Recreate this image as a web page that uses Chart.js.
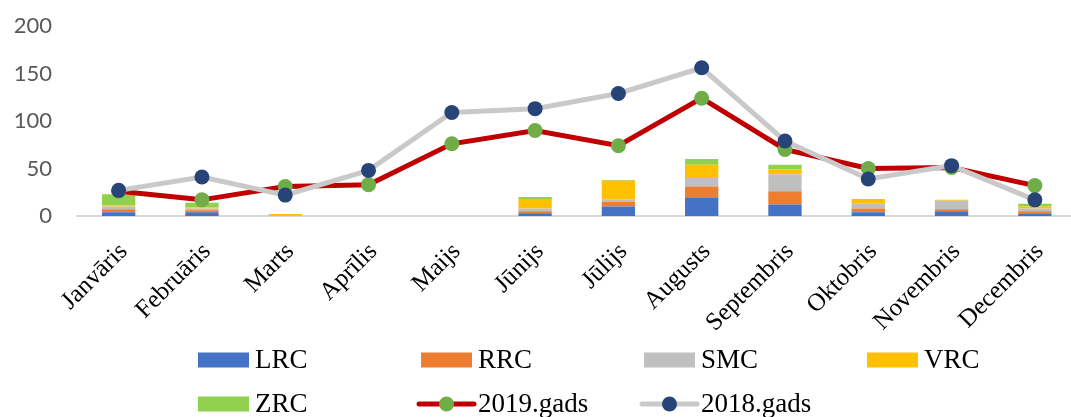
<!DOCTYPE html>
<html>
<head>
<meta charset="utf-8">
<script src="https://cdn.jsdelivr.net/npm/chart.js@4.4.0/dist/chart.umd.min.js"></script>
<style>
  html, body { margin:0; padding:0; background:#fff; overflow:hidden; }
  #wrap { width:1071px; height:417px; overflow:hidden; position:relative; }
  canvas { display:block; }
</style>
</head>
<body>
<div id="wrap"><canvas id="c" width="1084" height="417"></canvas></div>
<script>
// ==== DATA ====
const months = ["Janvāris","Februāris","Marts","Aprīlis","Maijs","Jūnijs","Jūlijs","Augusts","Septembris","Oktobris","Novembris","Decembris"];
const lrc = [4, 4, 0, 0, 0, 3, 10, 19, 12, 4, 5, 2];
const rrc = [3, 2, 0, 0, 0, 2, 5, 12, 14, 4, 2, 3];
const smc = [3, 2, 1, 0, 0, 3, 2, 9, 18, 5, 9, 3];
const vrc = [1, 1, 1, 0, 0, 10, 20, 14, 5, 5, 1, 2];
const zrc = [12, 5, 0, 0, 0, 2, 1, 6, 5, 0, 0, 3];
const y2019 = [26, 17, 31, 33, 76, 90, 74, 124, 70, 50, 51, 32];
const y2018 = [27, 41, 22, 48, 109, 113, 129, 156, 79, 39, 53, 17];
const yTicks = [0, 50, 100, 150, 200];

// ==== helpers ====
const bar = (label, data, color) => ({
  type:"bar", label, data, backgroundColor:color, stack:"bars", order:2,
  barPercentage:0.4, categoryPercentage:1
});
// each line gets its own stack so it is not piled on the bars
const line = (label, data, color, dot, order) => ({
  type:"line", label, data, stack:label, order,
  borderColor:color, borderWidth:5,
  pointRadius:7.5, pointBackgroundColor:dot, pointBorderColor:dot, pointBorderWidth:0,
  pointStyle:"circle", tension:0, fill:false
});

// legend drawn in fixed columns like the original
const gridLegend = {
  id:"gridLegend",
  afterDraw(chart){
    const ctx = chart.ctx;
    ctx.save();
    ctx.font = "27px 'Liberation Serif'";
    ctx.textBaseline = "middle";
    chart.data.datasets.forEach((ds, i) => {
      const x = 198 + (i % 4) * 223;
      const y = 360 + Math.floor(i / 4) * 44;
      if(ds.type === "bar"){
        ctx.fillStyle = ds.backgroundColor;
        ctx.fillRect(x, y - 7.5, 51, 15);
      } else {
        ctx.strokeStyle = ds.borderColor;
        ctx.lineWidth = 5;
        ctx.lineCap = "round";
        ctx.beginPath(); ctx.moveTo(x - 2, y); ctx.lineTo(x + 53, y); ctx.stroke();
        ctx.fillStyle = ds.pointBackgroundColor;
        ctx.beginPath(); ctx.arc(x + 25.5, y, 7.5, 0, Math.PI * 2); ctx.fill();
      }
      ctx.fillStyle = "#000";
      ctx.fillText(ds.label, x + 57, y + 1);
    });
    ctx.restore();
  }
};

new Chart(document.getElementById("c"), {
  data:{
    labels: months,
    datasets:[
      bar("LRC", lrc, "#4472C4"),
      bar("RRC", rrc, "#ED7D31"),
      bar("SMC", smc, "#BFBFBF"),
      bar("VRC", vrc, "#FFC000"),
      bar("ZRC", zrc, "#92D050"),
      line("2019.gads", y2019, "#C00000", "#70AD47", 1),
      line("2018.gads", y2018, "#C9C9C9", "#264478", 0)
    ]
  },
  options:{
    responsive:false,
    animation:false,
    layout:{ padding:{ top:26, right:0, bottom:0, left:0 } },
    plugins:{ legend:{ display:false }, tooltip:{ enabled:false } },
    scales:{
      x:{
        stacked:true,
        grid:{ display:false, drawTicks:false },
        border:{ display:true, color:"#D9D9D9", width:2 },
        ticks:{ minRotation:45, maxRotation:45, padding:21, labelOffset:5, color:"#000",
                font:{ family:"'Liberation Serif'", size:25 } },
        // fixed box: plot spans 77..1084 (canvas is cropped at 1071 like the original)
        afterFit(s){ s.height = 201; s.paddingLeft = 0; s.paddingRight = 0; }
      },
      y:{
        stacked:true,
        min:0, max:200,
        afterBuildTicks(s){ s.ticks = yTicks.map(v => ({ value:v })); },
        grid:{ display:false, drawTicks:false },
        border:{ display:false },
        ticks:{ padding:25, color:"#595959", font:{ family:"Lato", size:22 } },
        afterFit(s){ s.width = 77; s.paddingTop = 0; s.paddingBottom = 0; }
      }
    }
  },
  plugins:[gridLegend]
});
</script>
</body>
</html>
